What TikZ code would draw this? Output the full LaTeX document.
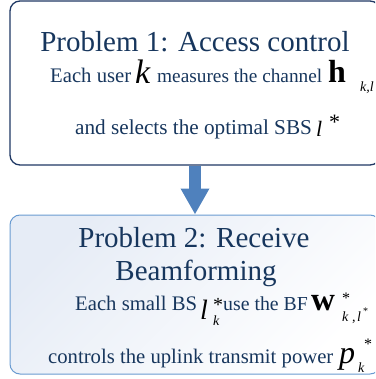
\documentclass[tikz,border=0pt]{standalone}
\usepackage{fontspec}
\setmainfont{Liberation Serif}
\usetikzlibrary{arrows.meta}

\definecolor{navytext}{RGB}{23,54,93}
\definecolor{navyline}{RGB}{31,56,100}
\definecolor{paleline}{RGB}{106,155,209}
\definecolor{paletint}{RGB}{230,236,246}
\definecolor{arrowblue}{RGB}{79,129,189}

\begin{document}
\begin{tikzpicture}[x=1pt, y=-1pt,
  title/.style={anchor=base, inner sep=0pt, text=navytext, font=\fontsize{29}{29}\selectfont},
  body/.style={anchor=base west, inner sep=0pt, text=navytext, font=\fontsize{#1}{#1}\selectfont},
  body/.default=20.7,
  sym/.style={anchor=base west, inner sep=0pt, text=black, font=\fontsize{#1}{#1}\selectfont\itshape},
  bsym/.style={anchor=base west, inner sep=0pt, text=black, font=\fontsize{#1}{#1}\selectfont\bfseries}]
\useasboundingbox (0,0) rectangle (375,379);
\clip (0,0) rectangle (375,379);
% the two boxes
\node [draw=navyline, line width=1.3pt, fill=white, rounded corners=10pt,
       minimum width=370pt, minimum height=164pt] (acc) at (195,83) {};
\node [draw=paleline, line width=1pt, rounded corners=10pt,
       top color=paletint, bottom color=white, shading angle=45,
       minimum width=370pt, minimum height=159pt] (rbf) at (195,294.5) {};
% arrow between them
\draw [arrowblue, line width=12pt, -{Triangle[width=27pt,length=26pt]}] (acc.south) -- (rbf.north);
% problem 1
\node [title] (tone) at (195,52) {Problem 1: Access control};
\node [body] (eachuser) at (50,83) {Each user};
\node [sym=34] (kuser) at (135,84) {k};
\node [body=19.3] (measures) at (157,83) {measures the channel};
\node [bsym=32] (hchan) at (328,83) {h};
\node [sym=14] (hsub) at (360,92) {k,l};
\node [body=21.2] (selects) at (75,135) {and selects the optimal SBS};
\node [sym=22] (lsel) at (316,137) {l};
\node [sym=22, font=\fontsize{22}{22}\selectfont] (lstar) at (329,130) {*};
% problem 2
\node [title] (ttwoa) at (194,247) {Problem 2: Receive};
\node [title] (ttwob) at (196,280) {Beamforming};
\node [body] (eachbs) at (75,310) {Each small BS};
\node [sym=28] (lbs) at (200,319) {l};
\node [sym=20, font=\fontsize{20}{20}\selectfont] (lbsstar) at (213,311) {*};
\node [sym=14] (lbssub) at (213,325) {k};
\node [body=19.8] (usebf) at (223,310) {use the BF};
\node [bsym=33] (wbf) at (311,310) {w};
\node [sym=16, font=\fontsize{16}{16}\selectfont] (wstar) at (342,303) {*};
\node [sym=14] (wsubk) at (342,321) {k};
\node [sym=14, font=\fontsize{14}{14}\selectfont] (wsubc) at (352,321) {,};
\node [sym=14] (wsubl) at (357,321) {l};
\node [sym=10, font=\fontsize{10}{10}\selectfont] (wsubs) at (363,314) {*};
\node [body] (controls) at (48,363) {controls the uplink transmit power};
\node [sym=32] (ppow) at (339,363) {p};
\node [sym=14] (psub) at (358,372) {k};
\node [sym=16, font=\fontsize{16}{16}\selectfont] (pstar) at (364,349) {*};
\end{tikzpicture}
\end{document}
